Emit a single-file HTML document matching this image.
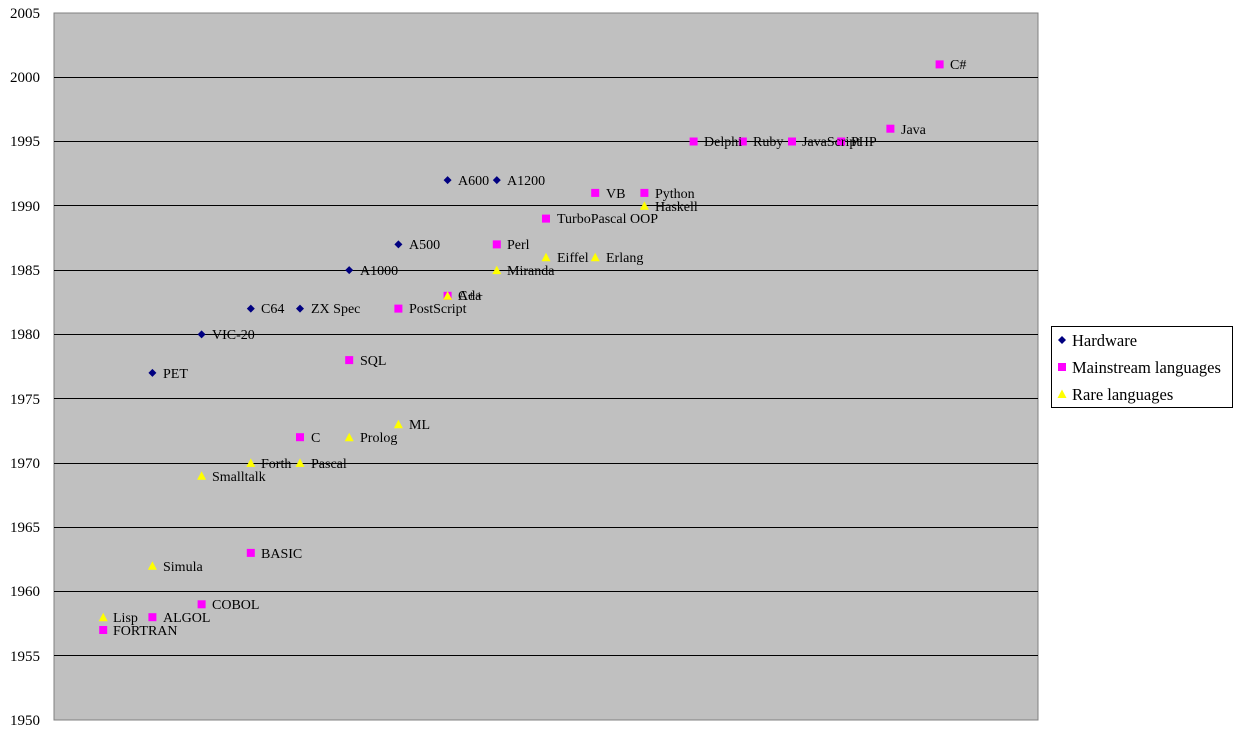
<!DOCTYPE html>
<html><head><meta charset="utf-8"><style>
html,body{margin:0;padding:0;background:#fff;}
svg{display:block;font-family:"Liberation Serif",serif;}
</style></head><body>
<svg width="1247" height="732" viewBox="0 0 1247 732" xmlns="http://www.w3.org/2000/svg">
<defs>
<path id="d" d="M0,-4 L4,0 L0,4 L-4,0 Z" fill="#000080"/>
<rect id="s" x="-4" y="-4" width="8" height="8" fill="#ff00ff"/>
<path id="t" d="M0,-4.5 L4.5,4 L-4.5,4 Z" fill="#ffff00"/>
</defs>
<rect x="54" y="13" width="984" height="707" fill="#c0c0c0" stroke="#808080"/>
<g stroke="#000" stroke-width="1">
<line x1="54" x2="1038" y1="77.5" y2="77.5"/><line x1="54" x2="1038" y1="141.5" y2="141.5"/>
<line x1="54" x2="1038" y1="205.5" y2="205.5"/><line x1="54" x2="1038" y1="270.5" y2="270.5"/>
<line x1="54" x2="1038" y1="334.5" y2="334.5"/><line x1="54" x2="1038" y1="398.5" y2="398.5"/>
<line x1="54" x2="1038" y1="463.5" y2="463.5"/><line x1="54" x2="1038" y1="527.5" y2="527.5"/>
<line x1="54" x2="1038" y1="591.5" y2="591.5"/><line x1="54" x2="1038" y1="655.5" y2="655.5"/>
</g>
<g font-size="15" text-anchor="end">
<text x="40" y="18">2005</text><text x="40" y="82">2000</text><text x="40" y="146">1995</text>
<text x="40" y="211">1990</text><text x="40" y="275">1985</text><text x="40" y="339">1980</text>
<text x="40" y="404">1975</text><text x="40" y="468">1970</text><text x="40" y="532">1965</text>
<text x="40" y="596">1960</text><text x="40" y="661">1955</text><text x="40" y="725">1950</text>
</g>
<g>
<use href="#d" x="152.4" y="372.9"/><use href="#d" x="201.6" y="334.4"/><use href="#d" x="250.8" y="308.6"/>
<use href="#d" x="300" y="308.6"/><use href="#d" x="349.2" y="270.1"/><use href="#d" x="398.4" y="244.4"/>
<use href="#d" x="447.6" y="180.1"/><use href="#d" x="496.8" y="180.1"/>
<use href="#s" x="103.2" y="630"/><use href="#s" x="152.4" y="617.2"/><use href="#s" x="201.6" y="604.3"/>
<use href="#s" x="250.8" y="552.9"/><use href="#s" x="300" y="437.2"/><use href="#s" x="349.2" y="360.1"/>
<use href="#s" x="398.4" y="308.6"/><use href="#s" x="447.6" y="295.8"/><use href="#s" x="496.8" y="244.4"/>
<use href="#s" x="546" y="218.6"/><use href="#s" x="595.2" y="192.9"/><use href="#s" x="644.4" y="192.9"/>
<use href="#s" x="693.6" y="141.5"/><use href="#s" x="742.8" y="141.5"/><use href="#s" x="792" y="141.5"/>
<use href="#s" x="841.2" y="141.5"/><use href="#s" x="890.4" y="128.7"/><use href="#s" x="939.6" y="64.4"/>
<use href="#t" x="103.2" y="617.2"/><use href="#t" x="152.4" y="565.7"/><use href="#t" x="201.6" y="475.8"/>
<use href="#t" x="250.8" y="462.9"/><use href="#t" x="300" y="462.9"/><use href="#t" x="349.2" y="437.2"/>
<use href="#t" x="398.4" y="424.3"/><use href="#t" x="447.6" y="295.8"/><use href="#t" x="496.8" y="270.1"/>
<use href="#t" x="546" y="257.2"/><use href="#t" x="595.2" y="257.2"/><use href="#t" x="644.4" y="205.8"/>
</g>
<g font-size="14">
<text x="163" y="378">PET</text><text x="212" y="339">VIC-20</text><text x="261" y="313">C64</text>
<text x="311" y="313">ZX Spec</text><text x="360" y="275">A1000</text><text x="409" y="249">A500</text>
<text x="458" y="185">A600</text><text x="507" y="185">A1200</text>
<text x="113" y="635">FORTRAN</text><text x="163" y="622">ALGOL</text><text x="212" y="609">COBOL</text>
<text x="261" y="558">BASIC</text><text x="311" y="442">C</text><text x="360" y="365">SQL</text>
<text x="409" y="313">PostScript</text><text x="458" y="300">C++</text><text x="507" y="249">Perl</text>
<text x="557" y="223">TurboPascal OOP</text><text x="606" y="198">VB</text><text x="655" y="198">Python</text>
<text x="704" y="146">Delphi</text><text x="753" y="146">Ruby</text><text x="802" y="146">JavaScript</text>
<text x="851" y="146">PHP</text><text x="901" y="134">Java</text><text x="950" y="69">C#</text>
<text x="113" y="622">Lisp</text><text x="163" y="571">Simula</text><text x="212" y="481">Smalltalk</text>
<text x="261" y="468">Forth</text><text x="311" y="468">Pascal</text><text x="360" y="442">Prolog</text>
<text x="409" y="429">ML</text><text x="458" y="300">Ada</text><text x="507" y="275">Miranda</text>
<text x="557" y="262">Eiffel</text><text x="606" y="262">Erlang</text><text x="655" y="211">Haskell</text>
</g>
<rect x="1051.5" y="326.5" width="181" height="81" fill="#fff" stroke="#000"/>
<use href="#d" x="1062" y="340"/><use href="#s" x="1062" y="367"/><use href="#t" x="1062" y="394"/>
<g font-size="16.5">
<text x="1072" y="346">Hardware</text><text x="1072" y="373">Mainstream languages</text><text x="1072" y="400">Rare languages</text>
</g>
</svg>
</body></html>
